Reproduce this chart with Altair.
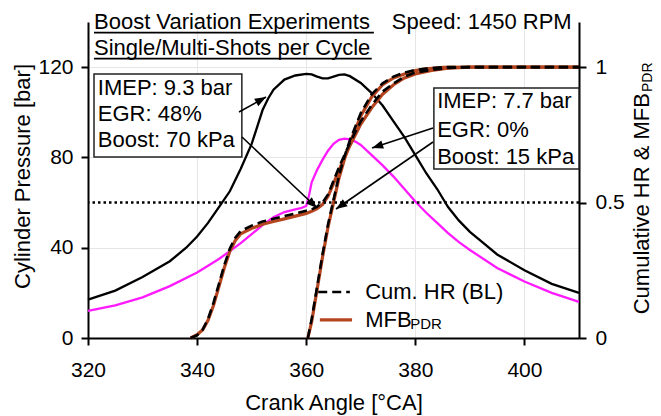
import math
import altair as alt
import pandas as pd

FONT = "Liberation Sans"
W, H = 491, 316
XMIN, XMAX = 320, 410
PMAX = 140.0
FMAX = 140.0 / 120.0

# ---------------- data ----------------
# Cylinder pressure, Boost 70 kPa (black)
black_ca = [320, 325, 330, 335, 338, 340, 342, 344, 346, 348, 350, 352, 353, 354, 356, 358, 360,
            361, 362, 363, 364, 365, 366, 367, 368, 370, 372, 374, 376, 378, 380, 382, 384, 386,
            388, 390, 392, 395, 400, 405, 410]
black_p = [17, 21, 27, 34, 40, 45, 51, 58, 65, 75, 86, 101, 106, 110, 114.5, 116.3, 117,
           116.8, 115.8, 115, 115, 115.8, 116.6, 116.8, 116, 113, 108.5, 103, 96, 89, 81, 73, 66, 58,
           52, 47, 43, 37, 30, 24, 20]
# Cylinder pressure, Boost 15 kPa (magenta)
mag_ca = [320, 325, 330, 335, 340, 344, 348, 350, 352, 354, 356, 358, 359, 360, 360.5, 361, 362,
          363, 364, 365, 366, 367, 368, 369, 370, 372, 374, 376, 378, 380, 382, 384, 386, 388,
          390, 395, 400, 405, 410]
mag_p = [12, 14.5, 18, 23, 29, 35, 42, 46, 50, 53.5, 55.8, 57, 57.5, 58.5, 63, 69, 74.5,
         79, 83, 86, 87.8, 88.3, 88, 87, 85.5, 81, 76.5, 71.5, 66, 60.5, 55.5, 51, 46.5, 42.5,
         39, 31, 25, 20, 16]
# Cumulative heat release / mass fraction burned, multi-shot case
hr1_ca = [338.8, 340, 341, 342, 343, 344, 345, 346, 347, 348, 350, 352, 354, 356, 358, 360, 361,
          362, 363, 364, 365, 366, 368, 370, 372, 374, 376, 378, 380, 383, 386, 390, 410]
hr1 = [0, 0.01, 0.03, 0.07, 0.13, 0.2, 0.27, 0.33, 0.37, 0.395, 0.415, 0.43, 0.44, 0.45, 0.46,
       0.47, 0.475, 0.485, 0.5, 0.53, 0.58, 0.63, 0.72, 0.8, 0.86, 0.91, 0.94, 0.965, 0.98, 0.99,
       0.997, 1.0, 1.0]
mfb1 = [0, 0.012, 0.03, 0.065, 0.12, 0.19, 0.26, 0.32, 0.36, 0.385, 0.405, 0.42, 0.43, 0.44,
        0.45, 0.46, 0.468, 0.478, 0.493, 0.523, 0.57, 0.62, 0.71, 0.79, 0.85, 0.9, 0.935, 0.96,
        0.975, 0.988, 0.996, 1.0, 1.0]
# Cumulative heat release / mass fraction burned, single-shot case
hr2_ca = [360.3, 361, 362, 363, 364, 365, 366, 367, 368, 370, 372, 374, 376, 378, 380, 382, 385,
          390, 410]
hr2 = [0, 0.07, 0.19, 0.31, 0.42, 0.51, 0.6, 0.67, 0.73, 0.83, 0.9, 0.94, 0.965, 0.98, 0.99,
       0.995, 1.0, 1.0, 1.0]
mfb2 = [0, 0.06, 0.18, 0.3, 0.41, 0.5, 0.59, 0.66, 0.72, 0.82, 0.89, 0.935, 0.96, 0.975, 0.987,
        0.994, 0.999, 1.0, 1.0]

x_ticks = [320, 340, 360, 380, 400]
p_ticks = [0, 40, 80, 120]
f_ticks = [0, 0.5, 1]

box1_lines = ["IMEP: 9.3 bar", "EGR: 48%", "Boost: 70 kPa"]
box2_lines = ["IMEP: 7.7 bar", "EGR: 0%", "Boost: 15 kPa"]
title_lines = ["Boost Variation Experiments", "Single/Multi-Shots per Cycle"]
speed_text = "Speed: 1450 RPM"

BLACK = "#000000"
MAGENTA = "#ff1aff"
BROWN = "#b4451f"


# ---------------- helpers ----------------
def xq(field):
    return alt.X(field, type="quantitative",
                 scale=alt.Scale(domain=[XMIN, XMAX], nice=False, zero=False),
                 axis=alt.Axis(values=x_ticks, title="Crank Angle [°CA]", grid=True,
                               labelFlush=False,
                               titleX=W / 2, titleY=64, titleBaseline="middle",
                               titleAlign="center"))


def yp(field, axis=None):
    return alt.Y(field, type="quantitative",
                 scale=alt.Scale(domain=[0, PMAX], nice=False, zero=False), axis=axis)


def yf(field, axis=None):
    return alt.Y(field, type="quantitative",
                 scale=alt.Scale(domain=[0, FMAX], nice=False, zero=False), axis=axis)


# ---------------- pressure curves ----------------
pres = pd.concat([
    pd.DataFrame({"ca": black_ca, "p": black_p, "s": "b70"}),
    pd.DataFrame({"ca": mag_ca, "p": mag_p, "s": "b15"}),
])
left_axis = alt.Axis(values=p_ticks, title="Cylinder Pressure [bar]", grid=True,
                     labelFlush=False,
                     titleX=-66, titleY=154, titleAngle=270, titleAlign="center",
                     titleBaseline="middle", labelPadding=8)
pressure = alt.Chart(pres).mark_line(strokeWidth=2.3).encode(
    x=xq("ca"),
    y=yp("p", left_axis),
    color=alt.Color("s:N", scale=alt.Scale(domain=["b70", "b15"], range=[BLACK, MAGENTA]),
                    legend=None),
)

# ---------------- fraction curves ----------------
mfb_df = pd.concat([
    pd.DataFrame({"ca": hr1_ca, "f": mfb1, "s": "m1"}),
    pd.DataFrame({"ca": hr2_ca, "f": mfb2, "s": "m2"}),
])
hr_df = pd.concat([
    pd.DataFrame({"ca": hr1_ca, "f": hr1, "s": "h1"}),
    pd.DataFrame({"ca": hr2_ca, "f": hr2, "s": "h2"}),
])
mfb_lines = alt.Chart(mfb_df).mark_line(strokeWidth=3.2, color=BROWN).encode(
    x=xq("ca"), y=yf("f"), detail="s:N")
hr_lines = alt.Chart(hr_df).mark_line(strokeWidth=2.6, color=BLACK, strokeDash=[9, 5]).encode(
    x=xq("ca"), y=yf("f"), detail="s:N")

right_axis = alt.Axis(orient="right", values=f_ticks, title=None, grid=False, format="~g",
                      labelFlush=False, labelPadding=9)
half = alt.Chart(pd.DataFrame({"f": [0.5]})).mark_rule(
    strokeDash=[2.5, 3], strokeWidth=2.5, color=BLACK).encode(y=yf("f", right_axis))

# ---------------- boxes ----------------
boxes = pd.DataFrame({
    "x1": [321.1, 383.4], "x2": [348.2, 410.0],
    "y1": [117.0, 110.8], "y2": [80.2, 74.9],
})
box_layer = alt.Chart(boxes).mark_rect(fill="white", stroke="#222222", strokeWidth=1.5).encode(
    x=xq("x1"), x2="x2", y=yp("y1"), y2="y2")

box_text = pd.DataFrame({
    "ca": [321.8] * 3 + [384.0] * 3,
    "p": [110.8, 99.4, 87.7, 104.8, 92.2, 80.4],
    "t": box1_lines + box2_lines,
})
box_text_layer = alt.Chart(box_text).mark_text(
    align="left", baseline="middle", font=FONT, fontSize=22, color=BLACK).encode(
    x=xq("ca"), y=yp("p"), text="t:N")

# ---------------- arrows ----------------
arrows = pd.DataFrame({
    "x1": [347.68, 348.23, 383.24, 383.24],
    "y1": [100.13, 89.05, 93.04, 86.83],
    "x2": [352.63, 361.98, 372.06, 365.46],
    "y2": [106.77, 57.59, 84.18, 57.15],
})
sx = W / (XMAX - XMIN)
sy = H / PMAX
arrows["ang"] = [
    math.degrees(math.atan2(-(b2 - b1) * sy, (a2 - a1) * sx)) % 360
    for a1, b1, a2, b2 in zip(arrows.x1, arrows.y1, arrows.x2, arrows.y2)
]
arrow_lines = alt.Chart(arrows).mark_rule(strokeWidth=1.6, color=BLACK).encode(
    x=xq("x1"), x2="x2", y=yp("y1"), y2="y2")
arrow_heads = alt.Chart(arrows).mark_point(
    shape="M0,0 L-1,-0.38 L-1,0.38 Z", filled=True, size=500, color=BLACK, opacity=1,
    strokeWidth=0).encode(
    x=xq("x2"), y=yp("y2"), angle=alt.Angle("ang:Q", scale=None))

# ---------------- legend ----------------
leg_hr = alt.Chart(pd.DataFrame({"x1": [362.2], "x2": [368.0], "y": [20.4]})).mark_rule(
    strokeWidth=2.6, strokeDash=[9, 5], color=BLACK).encode(x=xq("x1"), x2="x2", y=yp("y"))
leg_mfb = alt.Chart(pd.DataFrame({"x1": [362.5], "x2": [368.4], "y": [8.0]})).mark_rule(
    strokeWidth=3.2, color=BROWN).encode(x=xq("x1"), x2="x2", y=yp("y"))
leg_text = alt.Chart(pd.DataFrame({"ca": [370.8, 370.8], "p": [20.4, 8.0],
                                   "t": ["Cum. HR (BL)", "MFB"]})).mark_text(
    align="left", baseline="middle", font=FONT, fontSize=22, color=BLACK).encode(
    x=xq("ca"), y=yp("p"), text="t:N")
leg_sub = alt.Chart(pd.DataFrame({"ca": [370.8], "p": [8.0], "t": ["PDR"]})).mark_text(
    align="left", baseline="middle", font=FONT, fontSize=15, color=BLACK, dx=45, dy=4).encode(
    x=xq("ca"), y=yp("p"), text="t:N")

# ---------------- title texts ----------------
titles = pd.DataFrame({
    "ca": [321.1, 321.1, 375.7],
    "p": [136.9, 125.6, 136.9],
    "t": [title_lines[0], title_lines[1], speed_text],
})
title_layer = alt.Chart(titles).mark_text(
    align="left", baseline="alphabetic", font=FONT, fontSize=22, color=BLACK).encode(
    x=xq("ca"), y=yp("p"), text="t:N")
underl = pd.DataFrame({"x1": [321.1, 321.1], "x2": [372.4, 372.0], "y": [135.3, 123.8]})
underline_layer = alt.Chart(underl).mark_rule(strokeWidth=1.8, color=BLACK).encode(
    x=xq("x1"), x2="x2", y=yp("y"))

# ---------------- right axis title (with subscript) ----------------
rt_main = alt.Chart(pd.DataFrame({"t": ["Cumulative HR & MFB"]})).mark_text(
    angle=270, align="right", baseline="middle", font=FONT, fontSize=22, color=BLACK).encode(
    x=alt.value(554), y=alt.value(71), text="t:N")
rt_sub = alt.Chart(pd.DataFrame({"t": ["PDR"]})).mark_text(
    angle=270, align="left", baseline="middle", font=FONT, fontSize=14, color=BLACK).encode(
    x=alt.value(560), y=alt.value(70), text="t:N")

chart = alt.layer(
    pressure, mfb_lines, hr_lines, half,
    box_layer, box_text_layer, arrow_lines, arrow_heads,
    leg_mfb, leg_hr, leg_text, leg_sub,
    title_layer, underline_layer, rt_main, rt_sub,
).resolve_scale(y="independent").properties(
    width=W, height=H,
    autosize=alt.AutoSizeParams(type="none"),
    padding={"left": 88, "top": 22, "right": 661 - 88 - W, "bottom": 416 - 22 - H},
    background="white",
).configure_view(stroke=None).configure_axis(
    labelFont=FONT, titleFont=FONT, labelFontSize=21, titleFontSize=22,
    titleFontWeight="normal", labelColor=BLACK, titleColor=BLACK,
    domainColor=BLACK, domainWidth=2, tickColor=BLACK, tickWidth=2, tickSize=7,
    gridColor="#e6e6e6", gridWidth=1, labelPadding=14, labelOverlap=False,
).configure_axisY(labelPadding=8)

chart.save("out.html", embed_options={"renderer": "svg", "actions": False})
